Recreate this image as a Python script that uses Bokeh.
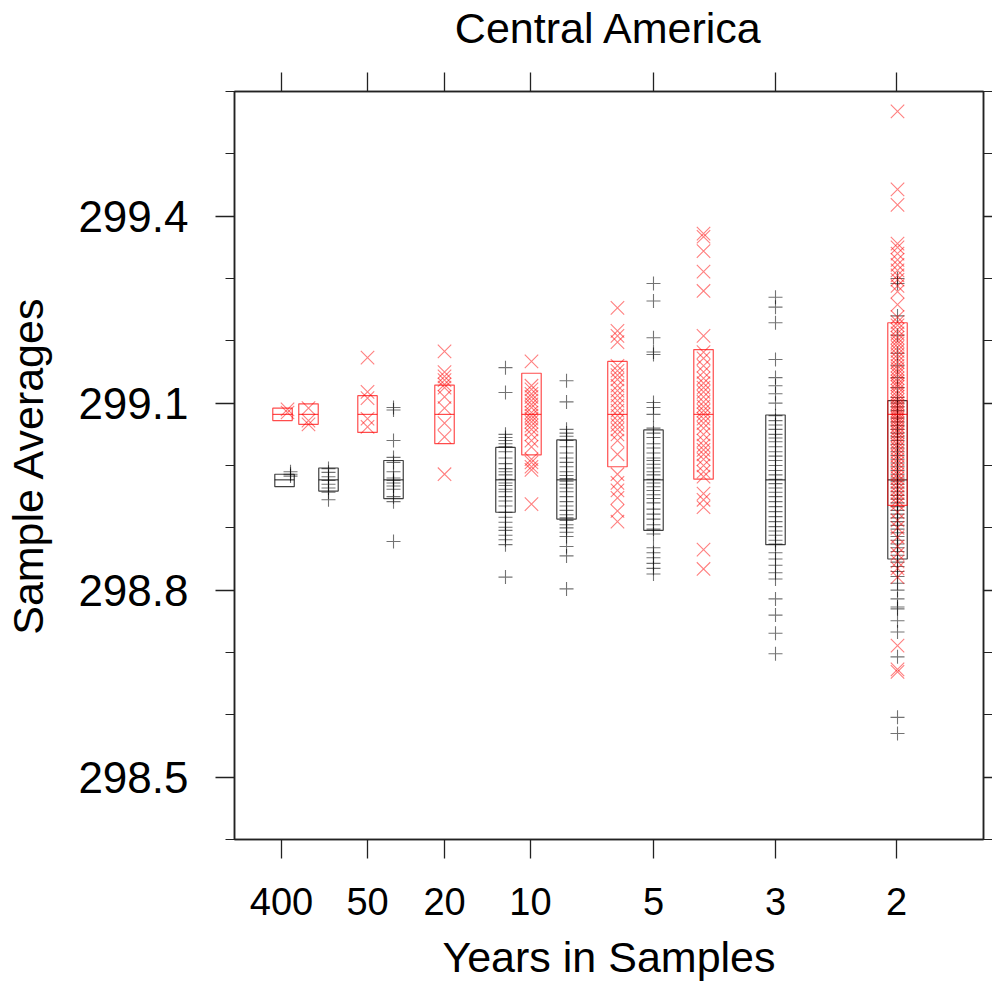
from bokeh.plotting import figure
from bokeh.models import LinearAxis, FixedTicker, Range1d, ColumnDataSource
from bokeh.embed import file_html
from bokeh.resources import INLINE

# ---------------- data ----------------
tick_pos = [6.27, 17.76, 28.04, 39.52, 55.94, 72.23, 88.38]
tick_labels = ["400", "50", "20", "10", "5", "3", "2"]

y_major = [298.5, 298.8, 299.1, 299.4]
y_minor = [298.4, 298.5, 298.6, 298.7, 298.8, 298.9, 299.0, 299.1, 299.2, 299.3, 299.4, 299.5, 299.6]

# black series (+ markers)
black_box_x = [6.68, 12.55, 21.23, 36.18, 44.33, 55.94, 72.23, 88.52]
black_pt_x = [7.48, 12.55, 21.23, 36.18, 44.33, 55.94, 72.23, 88.52]
black_q1 = [298.966, 298.959, 298.947, 298.925, 298.914, 298.896, 298.873, 298.850]
black_med = [298.977, 298.977, 298.977, 298.977, 298.977, 298.977, 298.977, 298.977]
black_q3 = [298.986, 298.996, 299.008, 299.029, 299.041, 299.057, 299.081, 299.104]
black_pts = [
    [298.990, 298.986, 298.983],
    [298.995, 298.989, 298.982, 298.976, 298.970, 298.964, 298.957, 298.945],
    [299.093, 299.089, 299.040, 299.013, 299.005, 298.990, 298.980, 298.976, 298.972,
     298.967, 298.962, 298.950, 298.942, 298.878],
    [299.157, 299.117, 299.050, 299.045, 299.040, 299.035, 299.030, 299.022, 299.012,
     299.003, 298.995, 298.990, 298.985, 298.978, 298.972, 298.968, 298.962, 298.958,
     298.950, 298.943, 298.935, 298.925, 298.917, 298.909, 298.901, 298.896, 298.888,
     298.881, 298.873, 298.821],
    [299.136, 299.102, 299.058, 299.052, 299.047, 299.040, 299.030, 299.020, 299.012,
     299.005, 298.998, 298.990, 298.984, 298.979, 298.975, 298.970, 298.964, 298.958,
     298.950, 298.942, 298.935, 298.928, 298.921, 298.916, 298.912, 298.905, 298.900,
     298.893, 298.886, 298.870, 298.855, 298.802],
    [299.292, 299.264, 299.205, 299.182, 299.178, 299.101, 299.093, 299.082, 299.060,
     299.052, 299.045, 299.035, 299.028, 299.020, 299.012, 299.008, 299.002, 298.996,
     298.990, 298.985, 298.978, 298.972, 298.966, 298.960, 298.953, 298.947, 298.940,
     298.930, 298.922, 298.914, 298.905, 298.898, 298.890, 298.868, 298.860, 298.852,
     298.843, 298.835, 298.826],
    [299.270, 299.254, 299.229, 299.170, 299.141, 299.128, 299.115, 299.100, 299.080,
     299.072, 299.065, 299.058, 299.050, 299.044, 299.038, 299.030, 299.022, 299.015,
     299.008, 299.000, 298.992, 298.985, 298.978, 298.971, 298.964, 298.957, 298.950,
     298.942, 298.934, 298.926, 298.918, 298.910, 298.902, 298.895, 298.888, 298.880,
     298.874, 298.860, 298.850, 298.840, 298.828, 298.818, 298.786, 298.760, 298.731,
     298.698],
    [299.300, 299.292, 299.240, 299.209, 299.180, 299.160, 299.141, 299.125, 299.109,
     299.100, 299.094, 299.088, 299.082, 299.076, 299.070, 299.064, 299.058, 299.052,
     299.046, 299.040, 299.034, 299.028, 299.022, 299.016, 299.010, 299.004, 298.998,
     298.992, 298.986, 298.980, 298.975, 298.970, 298.964, 298.958, 298.952, 298.946,
     298.940, 298.934, 298.928, 298.922, 298.916, 298.910, 298.904, 298.898, 298.892,
     298.886, 298.880, 298.874, 298.868, 298.862, 298.856, 298.845, 298.838, 298.830,
     298.822, 298.811, 298.800, 298.786, 298.773, 298.770, 298.751, 298.733, 298.693,
     298.596, 298.570],
]

# red series (x markers)
red_box_x = [6.41, 9.88, 17.76, 28.04, 39.65, 51.13, 62.62, 88.52]
red_pt_x = [7.08, 9.88, 17.76, 28.04, 39.65, 51.13, 62.62, 88.52]
red_q1 = [299.072, 299.066, 299.053, 299.035, 299.017, 298.998, 298.978, 298.936]
red_med = [299.082, 299.082, 299.082, 299.082, 299.082, 299.082, 299.082, 299.082]
red_q3 = [299.092, 299.099, 299.112, 299.129, 299.148, 299.167, 299.186, 299.229]
red_pts = [
    [299.090, 299.085],
    [299.092, 299.072, 299.066],
    [299.173, 299.118, 299.108, 299.075, 299.062],
    [299.183, 299.150, 299.143, 299.137, 299.130, 299.125, 299.110, 299.092, 299.068,
     299.046, 298.986],
    [299.167, 299.128, 299.122, 299.115, 299.110, 299.104, 299.098, 299.093, 299.085,
     299.080, 299.075, 299.070, 299.064, 299.058, 299.050, 299.040, 299.030, 299.010,
     299.005, 298.998, 298.993, 298.938],
    [299.253, 299.216, 299.208, 299.198, 299.160, 299.152, 299.145, 299.138, 299.128,
     299.120, 299.112, 299.104, 299.096, 299.088, 299.080, 299.072, 299.065, 299.058,
     299.050, 299.040, 299.018, 298.986, 298.972, 298.960, 298.948, 298.927, 298.910],
    [299.372, 299.367, 299.344, 299.311, 299.280, 299.208, 299.182, 299.172, 299.160,
     299.150, 299.140, 299.132, 299.125, 299.118, 299.110, 299.102, 299.095, 299.088,
     299.082, 299.075, 299.068, 299.060, 299.050, 299.040, 299.032, 299.025, 299.018,
     299.010, 299.000, 298.990, 298.982, 298.955, 298.945, 298.933, 298.865, 298.834],
    [299.568, 299.443, 299.418, 299.356, 299.350, 299.340, 299.330, 299.322, 299.313,
     299.305, 299.298, 299.288, 299.279, 299.258, 299.238, 299.230, 299.225, 299.218,
     299.212, 299.205, 299.200, 299.195, 299.190, 299.184, 299.178, 299.172, 299.166,
     299.160, 299.155, 299.150, 299.146, 299.140, 299.135, 299.130, 299.126, 299.120,
     299.115, 299.110, 299.105, 299.100, 299.096, 299.092, 299.088, 299.084, 299.080,
     299.076, 299.072, 299.068, 299.063, 299.058, 299.053, 299.048, 299.043, 299.038,
     299.033, 299.028, 299.022, 299.016, 299.010, 299.004, 298.998, 298.992, 298.986,
     298.980, 298.974, 298.968, 298.962, 298.956, 298.950, 298.944, 298.938, 298.925,
     298.912, 298.900, 298.885, 298.870, 298.858, 298.846, 298.835, 298.821, 298.711,
     298.673, 298.669],
]

TITLE = "Central America"
XLABEL = "Years in Samples"
YLABEL = "Sample Averages"

FONT = "Liberation Sans"
BOX_W = 2.6

# ---------------- figure ----------------
p = figure(width=992, height=983,
           x_range=Range1d(0, 100), y_range=Range1d(298.4, 299.6),
           output_backend="svg", toolbar_location=None,
           x_axis_location=None, y_axis_location=None,
           min_border_left=234, min_border_right=9,
           min_border_top=90, min_border_bottom=144)
p.grid.visible = False
p.background_fill_color = "white"
p.border_fill_color = "white"
p.outline_line_color = "#222222"
p.outline_line_width = 1.5

xt = FixedTicker(ticks=tick_pos, minor_ticks=[])
yt = FixedTicker(ticks=y_major, minor_ticks=y_minor)

def style(ax, labels=True):
    ax.axis_line_color = "#222222"
    ax.axis_line_width = 1.5
    ax.major_tick_line_color = "#222222"
    ax.minor_tick_line_color = "#222222"
    ax.major_tick_line_width = 1.3
    ax.minor_tick_line_width = 1.0
    ax.major_tick_in = 0
    ax.minor_tick_in = 0
    ax.major_label_text_font = FONT
    ax.major_label_text_color = "black"
    ax.axis_label_text_font = FONT
    ax.axis_label_text_font_style = "normal"
    ax.axis_label_text_color = "black"
    if not labels:
        ax.major_label_text_alpha = 0
        ax.major_label_text_font_size = "0px"

bottom = LinearAxis(ticker=xt, axis_label=XLABEL)
bottom.major_label_overrides = {tp: lab for tp, lab in zip(tick_pos, tick_labels)}
style(bottom)
bottom.major_tick_out = 19
bottom.major_label_text_font_size = "38px"
bottom.major_label_standoff = 29
bottom.axis_label_text_font_size = "43px"
bottom.axis_label_standoff = 15
p.add_layout(bottom, "below")

# top axis carries the chart title as its label
top = LinearAxis(ticker=xt, axis_label=TITLE)
style(top, labels=False)
top.major_tick_out = 19
top.major_label_standoff = 0
top.axis_label_text_font_size = "43px"
top.axis_label_standoff = 21
p.add_layout(top, "above")

left = LinearAxis(ticker=yt, axis_label=YLABEL)
style(left)
left.major_tick_out = 19
left.minor_tick_out = 9
left.major_label_text_font_size = "44px"
left.major_label_standoff = 27
left.axis_label_text_font_size = "43px"
left.axis_label_standoff = 23
p.add_layout(left, "left")

right = LinearAxis(ticker=yt)
style(right, labels=False)
right.major_tick_out = 9
right.minor_tick_out = 9
right.major_label_standoff = 0
p.add_layout(right, "right")

# ---------------- glyphs ----------------
def add_series(box_x, pt_x, q1, med, q3, pts, color, marker, msize, pt_alpha, box_alpha):
    xs, ys = [], []
    for px, col in zip(pt_x, pts):
        for v in col:
            xs.append(px)
            ys.append(v)
    src = ColumnDataSource(dict(x=xs, y=ys))
    p.scatter("x", "y", source=src, marker=marker, size=msize,
              line_color=color, line_alpha=pt_alpha, line_width=1.1)
    bsrc = ColumnDataSource(dict(
        left=[b - BOX_W / 2 for b in box_x], right=[b + BOX_W / 2 for b in box_x],
        q1=q1, q3=q3, med=med))
    p.quad(left="left", right="right", bottom="q1", top="q3", source=bsrc,
           fill_alpha=0, line_color=color, line_alpha=box_alpha, line_width=1.2)
    p.segment(x0="left", x1="right", y0="med", y1="med", source=bsrc,
              line_color=color, line_alpha=box_alpha, line_width=1.2)

add_series(black_box_x, black_pt_x, black_q1, black_med, black_q3, black_pts,
           "black", "cross", 14, 0.55, 0.75)
add_series(red_box_x, red_pt_x, red_q1, red_med, red_q3, red_pts,
           "red", "x", 19, 0.5, 0.7)

open("out.html", "w").write(file_html(p, INLINE))
